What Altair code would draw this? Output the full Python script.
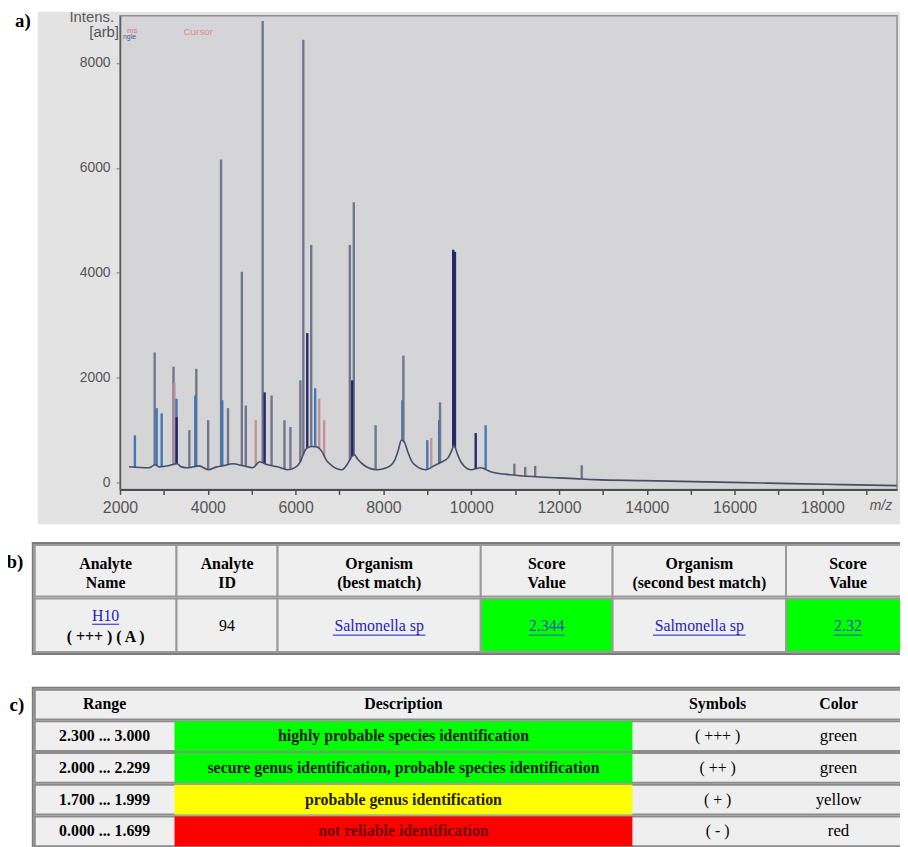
import altair as alt
import pandas as pd
import numpy as np

# ---------------- panel a: MALDI-TOF spectrum ----------------
BASE_MZ = [2203, 2655, 2800, 2900, 3106, 3300, 3400, 3557, 3800, 4009, 4200, 4347, 4573, 4799,
           5024, 5182, 5363, 5589, 5814, 6040, 6120, 6200, 6266, 6380, 6491, 6600, 6700, 6830,
           7056, 7200, 7281, 7340, 7420, 7575, 7846, 8071, 8252, 8340, 8410, 8480, 8550, 8650,
           8748, 8974, 9155, 9335, 9471, 9560, 9606, 9680, 9764, 9990, 10215, 10441, 10667,
           10893, 11118, 11457, 11908, 12360, 12811, 13940, 15068, 16197, 17325, 18453, 19695]
BASE_INT = [302, 283, 340, 300, 321, 360, 300, 283, 320, 246, 300, 321, 359, 321,
            283, 397, 340, 302, 246, 321, 420, 590, 661, 690, 680, 590, 430, 321,
            246, 380, 500, 529, 440, 321, 246, 283, 420, 620, 812, 770, 600, 400,
            321, 246, 321, 397, 472, 620, 718, 560, 397, 246, 283, 208, 170,
            151, 132, 113, 94, 76, 57, 38, 19, 0, -19, -38, -57]

PEAK_MZ = [2339, 2790, 2835, 2950, 3219, 3240, 3286, 3290, 3580, 3738, 3715, 4008,
           4302, 4330, 4460, 4776, 4866, 5092, 5250, 5295, 5453, 5747, 5882, 6108,
           6176, 6266, 6356, 6446, 6537, 6650, 7236, 7326, 7290, 7823, 8432, 8455,
           9000, 9090, 9270, 9290, 9590, 9630, 10103, 10329, 10983, 11231, 11457, 12518]
PEAK_INT = [900, 2480, 1420, 1320, 2210, 1900, 1600, 1250, 1000, 2170, 1660, 1190,
            6160, 1570, 1420, 4020, 1470, 1190, 8800, 1720, 1660, 1190, 1060, 1950,
            8440, 2850, 4530, 1800, 1600, 1190, 4530, 5345, 1950, 1095, 1570, 2420,
            810, 850, 1190, 1530, 4440, 4400, 945, 1095, 360, 300, 320, 330]
PEAK_TRACE = ["blue", "main", "blue", "blue", "main", "red", "blue", "dark", "main", "main", "blue", "main",
              "main", "blue", "main", "main", "main", "red", "main", "dark", "main", "main", "main", "main",
              "main", "dark", "main", "blue", "red", "red", "main", "main", "dark", "main", "blue", "main",
              "blue", "red", "blue", "main", "dark", "dark", "dark", "blue", "main", "main", "main", "main"]
TRACES = ["main", "dark", "blue", "red"]
TRACE_COLORS = ["#6a7187", "#1d2163", "#3b72b6", "#c58c92"]

X_TICKS = list(range(2000, 20000, 1000))
Y_TICKS = [0, 2000, 4000, 6000, 8000]
X_DOMAIN = [2000, 19700]
Y_DOMAIN = [-130, 8900]

# ---------------- panel b: identification result ----------------
B_HEADER_1 = ["Analyte", "Analyte", "Organism", "Score", "Organism", "Score"]
B_HEADER_2 = ["Name", "ID", "(best match)", "Value", "(second best match)", "Value"]
B_ANALYTE_NAME = "H10"
B_ANALYTE_FLAGS = "( +++ ) ( A )"
B_ANALYTE_ID = "94"
B_BEST = "Salmonella sp"
B_BEST_SCORE = 2.344
B_SECOND = "Salmonella sp"
B_SECOND_SCORE = 2.32

# ---------------- panel c: score ranges ----------------
C_HEADERS = ["Range", "Description", "Symbols", "Color"]
C_LOW = [2.300, 2.000, 1.700, 0.000]
C_HIGH = [3.000, 2.299, 1.999, 1.699]
C_DESC = ["highly probable species identification",
          "secure genus identification, probable species identification",
          "probable genus identification",
          "not reliable identification"]
C_SYMBOL = ["( +++ )", "( ++ )", "( + )", "( - )"]
C_COLOR = ["green", "green", "yellow", "red"]

# ---------------- layout / style (pixels inside the view) ----------------
W, H = 900, 839
SPEC_X_RANGE = [113, 897]
SPEC_Y_RANGE = [482, 4]
B_COLS = [27, 170, 272, 477, 610, 785, 910]
B_ROWS = [538, 590, 592, 646]
C_COLS = [27, 168, 630, 802, 874]
C_FILL_COLS = [169, 629]
C_ROWS = [684, 716, 748, 780, 812, 844]
FILL_HEX = {"green": "#00ff00", "yellow": "#ffff00", "red": "#ff0000"}
TEXT_ON = {"green": "#0d1a0d", "yellow": "#262000", "red": "#6e0000"}
CELL_BG = "#efefef"
CELL_LINE = "#9a9a9a"
LINK = "#1c1cc8"
LINK_ON_GREEN = "#1f52b8"
SERIF = "Liberation Serif"
SANS = "Liberation Sans"


def score_color(v):
    for lo, hi, c in zip(C_LOW, C_HIGH, C_COLOR):
        if lo <= v <= hi + 0.0009:
            return c
    return "red"


def text_width(s, size):
    w = 0.0
    for ch in s:
        if ch.isdigit():
            w += 0.5
        elif ch in ".,: ":
            w += 0.25
        elif ch in "lijt":
            w += 0.28
        elif ch in "mw":
            w += 0.76
        elif ch.isupper():
            w += 0.7
        else:
            w += 0.47
    return w * size


# ================= spectrum layer =================
XS = alt.Scale(domain=X_DOMAIN, range=SPEC_X_RANGE, nice=False, zero=False)
YS = alt.Scale(domain=Y_DOMAIN, range=SPEC_Y_RANGE, nice=False, zero=False)

x_axis = alt.Axis(values=X_TICKS, labelExpr="datum.value % 2000 == 0 ? '' + datum.value : ''",
                  offset=-(H - SPEC_Y_RANGE[0]), title=None, grid=False, labelOverlap=False,
                  labelFlush=False, domainColor="#4d4d4d", domainWidth=2, tickColor="#4d4d4d",
                  tickSize=5, tickWidth=1.5, labelFont=SANS, labelFontSize=16, labelColor="#555555",
                  labelPadding=5, zindex=2)
y_axis = alt.Axis(values=Y_TICKS, format="d", offset=-SPEC_X_RANGE[0], title=None, grid=False,
                  labelFlush=False, domainColor="#5a5a5a", domainWidth=1.5, tickColor="#777777",
                  tickSize=4, labelFont=SANS, labelFontSize=14, labelColor="#555555", labelPadding=6,
                  zindex=2)

one = pd.DataFrame({"k": [0]})

frame = alt.Chart(one).mark_rect(color="#e3e3e3").encode(
    x=alt.value(30), x2=alt.value(W), y=alt.value(0), y2=alt.value(517))

plot_bg = alt.Chart(one).mark_rect(fill="#d5d5d8", stroke="#8e8e92", strokeWidth=1.5).encode(
    x=alt.X(datum=X_DOMAIN[0], scale=XS, axis=x_axis),
    x2=alt.X2(datum=X_DOMAIN[1]),
    y=alt.Y(datum=Y_DOMAIN[0], scale=YS, axis=y_axis),
    y2=alt.Y2(datum=Y_DOMAIN[1]))

base_df = pd.DataFrame({"mz": BASE_MZ, "intensity": BASE_INT})
peak_df = pd.DataFrame({"mz": PEAK_MZ, "top": PEAK_INT, "trace": PEAK_TRACE})
peak_df["base"] = np.interp(peak_df["mz"], BASE_MZ, BASE_INT)

peaks = alt.Chart(peak_df).mark_rule(strokeWidth=2.4, opacity=0.95).encode(
    x=alt.X("mz:Q", scale=XS, axis=x_axis),
    y=alt.Y("base:Q", scale=YS, axis=y_axis),
    y2="top:Q",
    color=alt.Color("trace:N", scale=alt.Scale(domain=TRACES, range=TRACE_COLORS), legend=None))

baseline = alt.Chart(base_df).mark_line(color="#474d66", strokeWidth=1.6, interpolate="monotone").encode(
    x=alt.X("mz:Q", scale=XS, axis=x_axis),
    y=alt.Y("intensity:Q", scale=YS, axis=y_axis))

spec_text_df = pd.DataFrame({
    "t": ["Intens.", "[arb]", "m/z", "ms", "ngle", "Cursor"],
    "px": [107, 112, 892, 120, 116, 177],
    "py": [5, 20, 499, 19, 26, 20],
    "c": ["#5a5a5a", "#555555", "#555555", "#d77777", "#4a5b9a", "#e08a8a"],
    "s": [15, 15, 14, 8, 7, 10],
    "a": ["right", "right", "right", "left", "left", "left"],
})
spec_texts = []
for _, r in spec_text_df.iterrows():
    spec_texts.append(
        alt.Chart(pd.DataFrame({"t": [r["t"]]})).mark_text(
            font=SANS, fontSize=int(r["s"]), color=r["c"], align=r["a"], baseline="middle",
            fontStyle="italic" if r["t"] == "m/z" else "normal").encode(
            x=alt.value(int(r["px"])), y=alt.value(int(r["py"])), text="t:N"))

spectrum = alt.layer(frame, plot_bg, peaks, baseline, *spec_texts)

# ================= tables layer =================
TX = alt.Scale(domain=[0, W], range=[0, W], nice=False, zero=False)
TY = alt.Scale(domain=[0, H], range=[0, H], nice=False, zero=False)

cells = []
texts_bold = []
texts_norm = []
lines = []

# panel labels
for lab, (lx, ly) in zip(["a)", "b)", "c)"], [(15, 9), (7, 555), (9, 700)]):
    texts_bold.append(dict(x=lx, y=ly, text=lab, color="#000000", size=19))

# ---- table b ----
cells.append(dict(x0=B_COLS[0] - 2, x1=B_COLS[-1], y0=B_ROWS[0] - 2, y1=B_ROWS[-1] + 2,
                  fill="#ffffff", stroke="#7c7c7c"))
b_values = [None, B_ANALYTE_ID, B_BEST, str(B_BEST_SCORE), B_SECOND, str(B_SECOND_SCORE)]
b_fill = [None, None, None, score_color(B_BEST_SCORE), None, score_color(B_SECOND_SCORE)]
for i in range(6):
    x0, x1 = B_COLS[i], B_COLS[i + 1]
    xc = (x0 + x1) / 2
    cells.append(dict(x0=x0, x1=x1, y0=B_ROWS[0], y1=B_ROWS[1], fill=CELL_BG, stroke=CELL_LINE))
    f = FILL_HEX[b_fill[i]] if b_fill[i] else CELL_BG
    cells.append(dict(x0=x0, x1=x1, y0=B_ROWS[2], y1=B_ROWS[3], fill=f, stroke=CELL_LINE))
    texts_bold.append(dict(x=xc, y=557, text=B_HEADER_1[i], color="#000000", size=16))
    texts_bold.append(dict(x=xc, y=576, text=B_HEADER_2[i], color="#000000", size=16))
    if i == 0:
        texts_norm.append(dict(x=xc, y=610, text=B_ANALYTE_NAME, color=LINK, size=16))
        w = text_width(B_ANALYTE_NAME, 16)
        lines.append(dict(x0=xc - w / 2, x1=xc + w / 2, y=618, color=LINK))
        texts_bold.append(dict(x=xc, y=631, text=B_ANALYTE_FLAGS, color="#000000", size=16))
    elif i == 1:
        texts_norm.append(dict(x=xc, y=620, text=b_values[i], color="#000000", size=16))
    else:
        col = LINK_ON_GREEN if b_fill[i] else LINK
        texts_norm.append(dict(x=xc, y=620, text=b_values[i], color=col, size=16))
        w = text_width(b_values[i], 16)
        lines.append(dict(x0=xc - w / 2, x1=xc + w / 2, y=629, color=col))

# ---- table c ----
cells.append(dict(x0=C_COLS[0] - 2, x1=W + 10, y0=C_ROWS[0] - 2, y1=C_ROWS[-1] + 2,
                  fill="#ffffff", stroke="#7c7c7c"))
for r in range(5):
    y0, y1 = C_ROWS[r], C_ROWS[r + 1] - 2
    cells.append(dict(x0=C_COLS[0], x1=W + 10, y0=y0, y1=y1, fill=CELL_BG, stroke="#8c8c8c"))
    yc = (y0 + y1) / 2
    if r == 0:
        for j in range(4):
            texts_bold.append(dict(x=(C_COLS[j] + C_COLS[j + 1]) / 2, y=yc, text=C_HEADERS[j],
                                   color="#000000", size=16))
    else:
        k = r - 1
        cname = C_COLOR[k]
        cells.append(dict(x0=C_FILL_COLS[0], x1=C_FILL_COLS[1], y0=y0 + 1, y1=y1 - 1,
                          fill=FILL_HEX[cname], stroke=FILL_HEX[cname]))
        texts_bold.append(dict(x=(C_COLS[0] + C_COLS[1]) / 2, y=yc,
                               text=f"{C_LOW[k]:.3f} ... {C_HIGH[k]:.3f}", color="#000000", size=16))
        texts_bold.append(dict(x=(C_COLS[1] + C_COLS[2]) / 2, y=yc, text=C_DESC[k],
                               color=TEXT_ON[cname], size=16))
        texts_norm.append(dict(x=(C_COLS[2] + C_COLS[3]) / 2, y=yc, text=C_SYMBOL[k],
                               color="#000000", size=16))
        texts_norm.append(dict(x=(C_COLS[3] + C_COLS[4]) / 2, y=yc, text=cname,
                               color="#000000", size=17))

cells_df = pd.DataFrame(cells)
tb_df = pd.DataFrame(texts_bold)
tn_df = pd.DataFrame(texts_norm)
ln_df = pd.DataFrame(lines)

cell_layer = alt.Chart(cells_df).mark_rect(strokeWidth=2).encode(
    x=alt.X("x0:Q", scale=TX, axis=None), x2="x1:Q",
    y=alt.Y("y0:Q", scale=TY, axis=None), y2="y1:Q",
    fill=alt.Fill("fill:N", scale=None), stroke=alt.Stroke("stroke:N", scale=None))

bold_layer = alt.Chart(tb_df).mark_text(font=SERIF, fontWeight="bold", baseline="middle", align="center").encode(
    x=alt.X("x:Q", scale=TX, axis=None), y=alt.Y("y:Q", scale=TY, axis=None),
    text="text:N", color=alt.Color("color:N", scale=None), size=alt.Size("size:Q", scale=None))

norm_layer = alt.Chart(tn_df).mark_text(font=SERIF, baseline="middle", align="center").encode(
    x=alt.X("x:Q", scale=TX, axis=None), y=alt.Y("y:Q", scale=TY, axis=None),
    text="text:N", color=alt.Color("color:N", scale=None), size=alt.Size("size:Q", scale=None))

line_layer = alt.Chart(ln_df).mark_rule(strokeWidth=1).encode(
    x=alt.X("x0:Q", scale=TX, axis=None), x2="x1:Q",
    y=alt.Y("y:Q", scale=TY, axis=None),
    color=alt.Color("color:N", scale=None))

tables = alt.layer(cell_layer, bold_layer, norm_layer, line_layer)

chart = alt.layer(spectrum, tables).resolve_scale(
    x="independent", y="independent", color="independent"
).properties(
    width=W, height=H, autosize=alt.AutoSizeParams(type="none"), padding=0, background="#ffffff"
).configure_view(stroke=None)

chart.save("out.html", embed_options={"renderer": "svg", "actions": False})
